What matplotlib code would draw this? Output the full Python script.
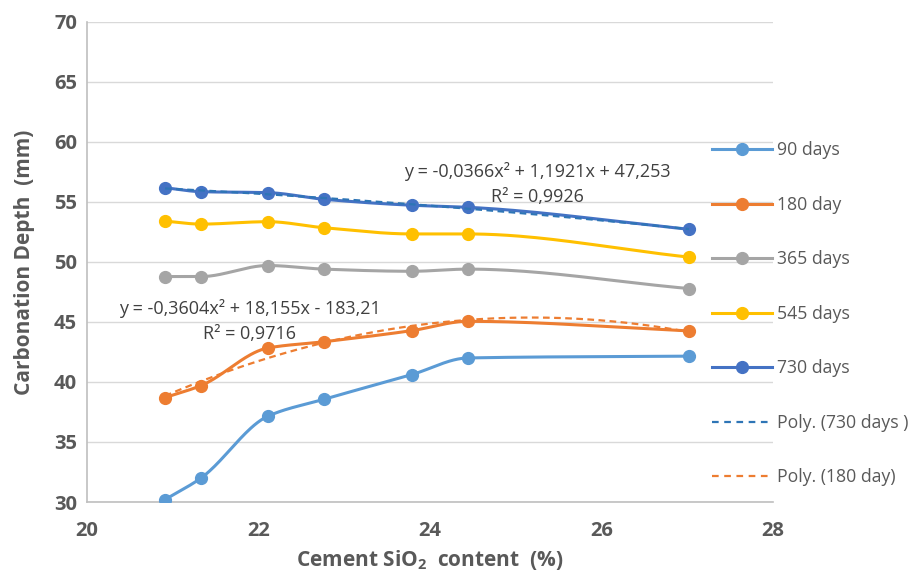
import numpy as np
import matplotlib
matplotlib.use("Agg")
import matplotlib.pyplot as plt
from matplotlib.lines import Line2D

# ---- data ----
sio2 = [20.91, 21.33, 22.11, 22.76, 23.79, 24.44, 27.02]
d90 = [30.2, 32.0, 37.15, 38.55, 40.62, 42.0, 42.15]
d180 = [38.7, 39.7, 42.83, 43.35, 44.28, 45.05, 44.25]
d365 = [48.78, 48.78, 49.7, 49.4, 49.22, 49.4, 47.78]
d545 = [53.4, 53.15, 53.35, 52.85, 52.33, 52.33, 50.4]
d730 = [56.18, 55.85, 55.77, 55.22, 54.72, 54.55, 52.72]
series_labels = ["90 days", "180 day", "365 days", "545 days", "730 days"]
colors = ["#5B9BD5", "#ED7D31", "#A5A5A5", "#FFC000", "#4472C4"]
eq730 = ["y = -0,0366x² + 1,1921x + 47,253", "R² = 0,9926"]
eq180 = ["y = -0,3604x² + 18,155x - 183,21", "R² = 0,9716"]
yticks = [30, 35, 40, 45, 50, 55, 60, 65, 70]
xticks = [20, 22, 24, 26, 28]

plt.rcParams['font.family'] = ['Open Sans', 'DejaVu Sans']
plt.rcParams['mathtext.fontset'] = 'custom'
plt.rcParams['mathtext.rm'] = 'Open Sans'
plt.rcParams['mathtext.bf'] = 'Open Sans:bold'
txt = "#595959"


def pchip(x, y, n=40):
    x = np.asarray(x, float); y = np.asarray(y, float)
    h = np.diff(x); d = np.diff(y) / h
    m = np.zeros_like(y)
    for k in range(1, len(x) - 1):
        if d[k - 1] * d[k] > 0:
            w1 = 2 * h[k] + h[k - 1]; w2 = h[k] + 2 * h[k - 1]
            m[k] = (w1 + w2) / (w1 / d[k - 1] + w2 / d[k])
        else:
            m[k] = 0.0
    m[0] = d[0]; m[-1] = d[-1]
    xs, ys = [], []
    for k in range(len(x) - 1):
        t = np.linspace(0, 1, n)
        h00 = 2 * t**3 - 3 * t**2 + 1; h10 = t**3 - 2 * t**2 + t
        h01 = -2 * t**3 + 3 * t**2; h11 = t**3 - t**2
        yy = h00 * y[k] + h10 * h[k] * m[k] + h01 * y[k + 1] + h11 * h[k] * m[k + 1]
        xx = x[k] + t * h[k]
        if k > 0:
            xx, yy = xx[1:], yy[1:]
        xs.append(xx); ys.append(yy)
    return np.concatenate(xs), np.concatenate(ys)


fig = plt.figure(figsize=(9.15, 5.74), dpi=100)
ax = fig.add_axes([0.095, 0.1254, 0.75, 0.8366])

handles = []
for data, lab, c in zip([d90, d180, d365, d545, d730], series_labels, colors):
    sx, sy = pchip(sio2, data)
    ax.plot(sx, sy, color=c, lw=2.2, zorder=3, solid_capstyle='round')
    ax.plot(sio2, data, 'o', color=c, ms=8.5, zorder=4)
    handles.append(Line2D([], [], color=c, lw=2.2, marker='o', ms=8.5))

xs = np.linspace(sio2[0], sio2[-1], 200)
p730 = np.polyfit(sio2, d730, 2)
p180 = np.polyfit(sio2, d180, 2)
ax.plot(xs, np.polyval(p730, xs), ls=(0, (3, 2)), color="#2E75B6", lw=1.6, zorder=5)
ax.plot(xs, np.polyval(p180, xs), ls=(0, (3, 2)), color="#ED7D31", lw=1.6, zorder=5)
handles.append(Line2D([], [], ls=(0, (3, 2.5)), color="#2E75B6", lw=1.6))
handles.append(Line2D([], [], ls=(0, (3, 2.5)), color="#ED7D31", lw=1.6))
labels = series_labels + ["Poly. (730 days )", "Poly. (180 day)"]

ax.set_xlim(20, 28)
ax.set_ylim(30, 70)
ax.set_xticks(xticks)
ax.set_yticks(yticks)
ax.grid(axis='y', color='#D9D9D9', lw=1)
ax.set_axisbelow(True)
for s in ['top', 'right']:
    ax.spines[s].set_visible(False)
for s in ['left', 'bottom']:
    ax.spines[s].set_color('#BFBFBF')
    ax.spines[s].set_linewidth(1.2)
ax.tick_params(length=0, labelsize=14.5, labelcolor=txt)
ax.tick_params(axis='y', pad=7)
ax.tick_params(axis='x', pad=14)
for t in ax.get_xticklabels() + ax.get_yticklabels():
    t.set_fontweight('bold')
ax.set_ylabel("Carbonation Depth  (mm)", fontsize=15, fontweight='bold', color=txt, labelpad=14)
ax.set_xlabel(r"Cement SiO$_\mathbf{2}$  content  (%)", fontsize=15, fontweight='bold', color=txt, labelpad=5)

ax.text(25.25, 57.5, eq730[0], fontsize=13, color="#404040", ha='center', va='center', zorder=6)
ax.text(25.25, 55.42, eq730[1], fontsize=13, color="#404040", ha='center', va='center', zorder=6)
ax.text(21.9, 46.1, eq180[0], fontsize=13, color="#404040", ha='center', va='center', zorder=6)
ax.text(21.9, 44.03, eq180[1], fontsize=13, color="#404040", ha='center', va='center', zorder=6)

leg = fig.legend(handles, labels, loc='upper left', bbox_to_anchor=(0.7705, 0.766),
                 frameon=False, fontsize=12.7, handlelength=3.4, handletextpad=0.3,
                 labelspacing=2.07, borderaxespad=0)
for t in leg.get_texts():
    t.set_color(txt)

fig.savefig("out.png", dpi=100)
